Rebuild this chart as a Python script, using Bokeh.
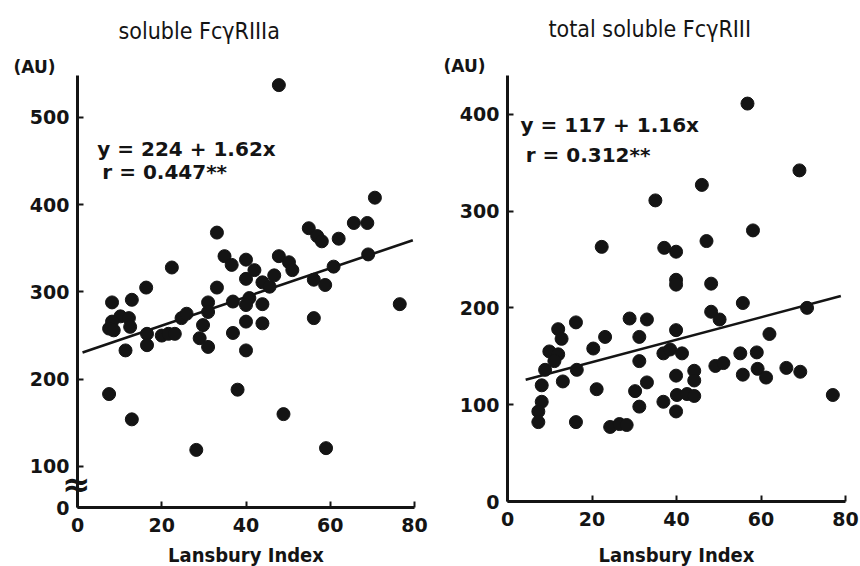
from bokeh.plotting import figure
from bokeh.layouts import row
from bokeh.models import Label, FixedTicker, Title, LinearAxis
from bokeh.embed import file_html
from bokeh.resources import INLINE

# ---------------- data ----------------
left_title = "soluble FcγRIIIa"
right_title = "total soluble FcγRIII"
x_label = "Lansbury Index"
unit_label = "(AU)"
break_mark = "≈"

left_x = [47.8, 33.1, 22.4, 70.6, 65.6, 68.8, 54.9, 56.9, 58.0, 62.0,
          34.9, 36.6, 40.0, 42.0, 40.0, 47.8, 50.2, 51.0, 46.7, 43.9,
          45.6, 60.8, 69.0, 56.1, 58.8, 33.1, 16.3, 12.9, 8.2, 76.5,
          31.0, 36.9, 40.8, 40.0, 43.9, 10.2, 12.2, 8.2, 7.5, 8.6,
          12.5, 24.7, 25.9, 31.0, 29.8, 29.0, 31.0, 40.0, 43.9, 36.9,
          40.0, 20.0, 21.6, 23.1, 16.5, 16.5, 11.4, 56.1, 7.5, 38.0,
          12.9, 48.9, 28.2, 59.0]
left_y = [537, 368, 328, 408, 379, 379, 373, 364, 358, 361,
          341, 331, 337, 325, 315, 341, 334, 325, 319, 311,
          306, 329, 343, 314, 308, 305, 305, 291, 288, 286,
          288, 289, 293, 285, 286, 272, 270, 266, 258, 256,
          260, 270, 275, 277, 262, 247, 237, 266, 264, 253,
          233, 250, 252, 252, 252, 239, 233, 270, 183, 188,
          154, 160, 119, 121]
left_fit_x = [1.2, 79.6]
left_fit_y = [230.6, 359.3]
left_eq = "y = 224 + 1.62x"
left_r = "r = 0.447**"
left_yticks = [53, 100, 200, 300, 400, 500]
left_ytick_labels = {53: "0"}
left_break_at = [80]

right_x = [56.8, 69.1, 46.0, 35.0, 58.1, 22.3, 47.1, 37.1, 39.9, 39.9,
           39.9, 48.2, 55.7, 70.9, 48.2, 50.2, 28.9, 33.0, 16.2, 12.0,
           12.8, 23.1, 31.2, 39.9, 20.3, 62.0, 9.9, 12.0, 36.9, 38.5,
           41.3, 31.2, 55.1, 59.0, 49.2, 51.1, 8.9, 11.1, 16.4, 44.2,
           44.2, 39.9, 55.7, 59.2, 61.2, 66.0, 69.3, 13.1, 8.1, 33.0,
           21.1, 30.2, 77.0, 36.9, 40.1, 42.5, 44.2, 8.1, 7.3, 31.2,
           39.9, 7.3, 16.2, 24.3, 26.5, 28.2]
right_y = [411, 342, 327, 311, 280, 263, 269, 262, 258, 229,
           224, 225, 205, 200, 196, 188, 189, 188, 185, 178,
           168, 170, 170, 177, 158, 173, 155, 152, 153, 157,
           153, 145, 153, 154, 140, 143, 136, 145, 136, 135,
           125, 130, 131, 137, 128, 138, 134, 124, 120, 123,
           116, 114, 110, 103, 110, 111, 109, 103, 93, 98,
           93, 82, 82, 77, 80, 79]
right_fit_x = [4.3, 78.9]
right_fit_y = [125.7, 212.2]
right_eq = "y = 117 + 1.16x"
right_r = "r = 0.312**"
right_yticks = [0, 100, 200, 300, 400]

x_ticks = [0, 20, 40, 60, 80]

INK = "#141414"
TICK_FONT = "DejaVu Sans"
NARROW = "DejaVu Sans Condensed, Liberation Sans Narrow, Roboto, sans-serif"


def make_panel(xs, ys, fx, fy, yr, yticks, overrides, fw, fh, mb_l, mb_r, mb_t, mb_b,
               title, label_standoff, title_standoff, unit_standoff):
    p = figure(frame_width=fw, frame_height=fh, x_range=(0, 80), y_range=yr,
               output_backend="svg", toolbar_location=None,
               min_border_left=mb_l, min_border_right=mb_r,
               min_border_top=mb_t, min_border_bottom=mb_b,
               background_fill_color="white", border_fill_color="white")
    p.outline_line_color = None
    p.grid.visible = False
    for ax in (p.xaxis[0], p.yaxis[0]):
        ax.axis_line_width = 3
        ax.axis_line_color = INK
        ax.major_tick_in = 6
        ax.major_tick_out = 0
        ax.major_tick_line_width = 2
        ax.major_tick_line_color = INK
        ax.minor_tick_line_color = None
        ax.major_label_text_font = TICK_FONT
        ax.major_label_text_font_style = "bold"
        ax.major_label_text_font_size = "19px"
        ax.major_label_text_color = INK
    p.xaxis.ticker = FixedTicker(ticks=x_ticks)
    p.yaxis.ticker = FixedTicker(ticks=yticks)
    p.yaxis.major_label_overrides = overrides
    p.yaxis.major_label_standoff = 8
    p.xaxis.major_label_standoff = 10
    p.xaxis.axis_label = x_label
    p.xaxis.axis_label_text_font = NARROW
    p.xaxis.axis_label_text_font_style = "bold"
    p.xaxis.axis_label_text_font_size = "20px"
    p.xaxis.axis_label_text_color = INK
    p.xaxis.axis_label_standoff = label_standoff
    # main title (outer), unit label right above the frame
    p.title.text = title
    p.title.align = "left"
    p.title.offset = 41
    p.title.standoff = title_standoff
    p.title.text_font = NARROW
    p.title.text_font_style = "normal"
    p.title.text_font_size = "23px"
    p.title.text_color = INK
    p.add_layout(Title(text=unit_label, align="left", offset=-64, standoff=unit_standoff,
                       text_font=TICK_FONT, text_font_style="bold",
                       text_font_size="17px", text_color=INK), "above")
    p.line(fx, fy, line_width=2.6, line_color=INK)
    p.scatter(xs, ys, size=13, fill_color=INK, line_color=INK)
    return p


p1 = make_panel(left_x, left_y, left_fit_x, left_fit_y, (53, 548), left_yticks,
                left_ytick_labels, 337, 432, 77, 16, 72, 62, left_title, 8, 25, -3)
p2 = make_panel(right_x, right_y, right_fit_x, right_fit_y, (0, 440), right_yticks,
                {}, 338, 426, 77, 15, 75, 65, right_title, 14, 25, -1)

# axis-break mark drawn as the only label of an extra, invisible left axis
brk = LinearAxis(ticker=FixedTicker(ticks=left_break_at),
                 major_label_overrides={left_break_at[0]: break_mark},
                 axis_line_color=None, major_tick_line_color=None,
                 minor_tick_line_color=None,
                 major_label_text_font=TICK_FONT, major_label_text_font_style="bold",
                 major_label_text_font_size="34px", major_label_text_color=INK,
                 major_label_standoff=-70)
p1.add_layout(brk, "left")


def lab(p, x, y, text, size, font=TICK_FONT, style="bold", align="left", color=INK):
    p.add_layout(Label(x=x, y=y, text=text, text_font=font, text_font_style=style,
                       text_font_size=size, text_align=align, text_baseline="middle",
                       text_color=color))


# equations
lab(p1, 4.7, 464, left_eq, "20px")
lab(p1, 5.9, 438, left_r, "20px")
lab(p2, 3.1, 389, right_eq, "20px")
lab(p2, 4.3, 358, right_r, "20px")

layout = row(p1, p2)
open("out.html", "w").write(file_html(layout, INLINE))
